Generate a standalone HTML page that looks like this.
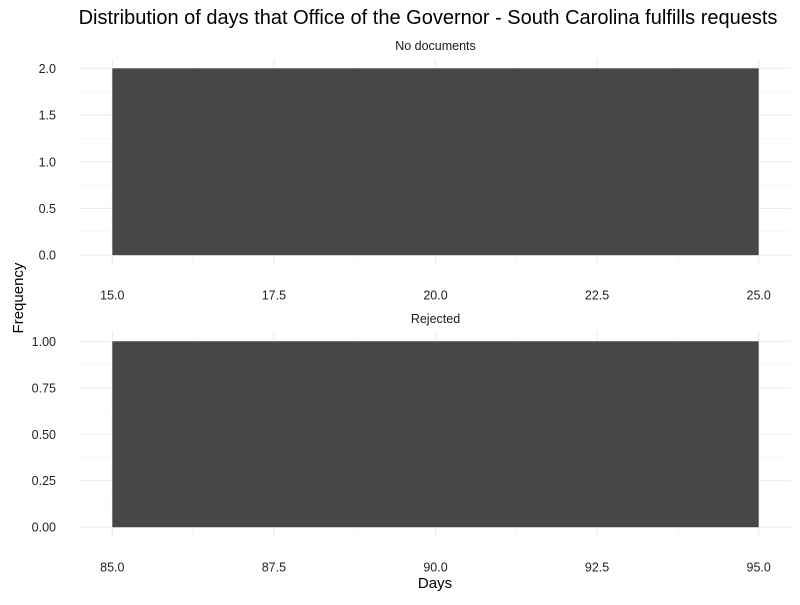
<!DOCTYPE html>
<html><head><meta charset="utf-8"><style>
body{margin:0;background:#fff}
svg text{font-family:"Liberation Sans",sans-serif}
</style></head><body>
<svg id="chart" width="800" height="600" xmlns="http://www.w3.org/2000/svg">
<text x="428" y="24" font-size="20" text-anchor="middle" fill="#000">Distribution of days that Office of the Governor - South Carolina fulfills requests</text>
<text x="0" y="0" font-size="15" text-anchor="middle" transform="translate(23,298) rotate(-90)">Frequency</text>
<text x="435" y="588" font-size="15" text-anchor="middle">Days</text>
</svg>
<script>
const panelNames = ["No documents", "Rejected"];
const binStarts = [[15], [85]];
const binEnds = [[25], [95]];
const counts = [[2], [1]];
const xTicks = [[15, 17.5, 20, 22.5, 25], [85, 87.5, 90, 92.5, 95]];
const yTicks = [[0, 0.5, 1, 1.5, 2], [0, 0.25, 0.5, 0.75, 1]];
const yDigits = [1, 2];

const svg = document.getElementById('chart');
const NS = 'http://www.w3.org/2000/svg';
function mk(tag, attrs, parent) {
  const e = document.createElementNS(NS, tag);
  for (const k in attrs) e.setAttribute(k, attrs[k]);
  (parent || svg).appendChild(e);
  return e;
}
const panels = [{top: 59, bottom: 264.5}, {top: 332, bottom: 536.5}];
const L = 80, R = 791;
panels.forEach((p, i) => {
  const g = mk('g', {});
  
  
  const xmin = Math.min(...binStarts[i]), xmax = Math.max(...binEnds[i]);
  const ymax = Math.max(...counts[i]);
  const xs = v => L + (v - (xmin - (xmax - xmin) * 0.05)) / ((xmax - xmin) * 1.1) * (R - L);
  const ys = v => p.bottom - (v + ymax * 0.05) / (ymax * 1.1) * (p.bottom - p.top);
  const xt = xTicks[i], yt = yTicks[i];
  for (let k = 0; k < xt.length - 1; k++) {
    const m = (xt[k] + xt[k + 1]) / 2;
    const l = mk('line', {x1: xs(m), x2: xs(m), y1: p.top, y2: p.bottom, stroke: '#f2f2f2', 'stroke-width': 0.6}, g);
    
    
  }
  for (let k = 0; k < yt.length - 1; k++) {
    const m = (yt[k] + yt[k + 1]) / 2;
    const l = mk('line', {x1: L, x2: R, y1: ys(m), y2: ys(m), stroke: '#f2f2f2', 'stroke-width': 0.6}, g);
    
    
  }
  xt.forEach(v => {
    const l = mk('line', {x1: xs(v), x2: xs(v), y1: p.top, y2: p.bottom, stroke: '#ebebeb', 'stroke-width': 1.1}, g);
    
    
    const t = mk('text', {x: xs(v), y: p.bottom + 35, 'font-size': 12.5, 'text-anchor': 'middle', fill: '#222'}, g);
    t.textContent = v.toFixed(1);
    
    
  });
  yt.forEach(v => {
    const l = mk('line', {x1: L, x2: R, y1: ys(v), y2: ys(v), stroke: '#ebebeb', 'stroke-width': 1.1}, g);
    
    
    const t = mk('text', {x: 56, y: ys(v) + 4.5, 'font-size': 12.5, 'text-anchor': 'end', fill: '#222'}, g);
    t.textContent = v.toFixed(yDigits[i]);
    
    
  });
  binStarts[i].forEach((s, k) => {
    const e = binEnds[i][k], c = counts[i][k];
    const r = mk('rect', {x: xs(s), y: ys(c), width: xs(e) - xs(s), height: ys(0) - ys(c), fill: '#474747'}, g);
    
    
  });
  const st = mk('text', {x: (L + R) / 2, y: p.top - 9, 'font-size': 12.5, 'text-anchor': 'middle', fill: '#1a1a1a'}, g);
  st.textContent = panelNames[i];
  
  
});
</script>
</body></html>
